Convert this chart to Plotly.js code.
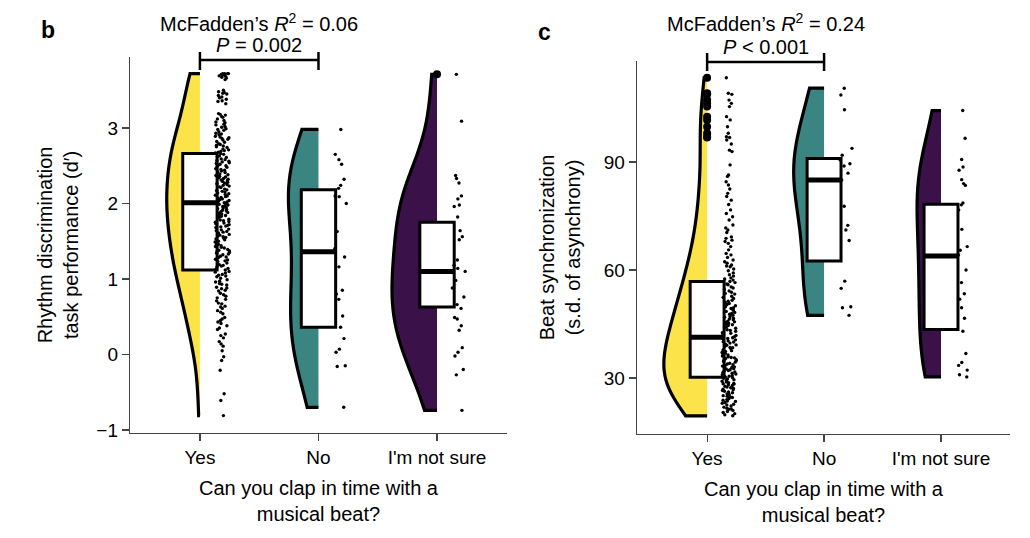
<!DOCTYPE html>
<html><head><meta charset="utf-8">
<script src="https://cdn.plot.ly/plotly-3.0.1.min.js"></script>
<style>html,body{margin:0;padding:0;background:#fff}#chart{width:1030px;height:538px}</style>
</head><body><div id="chart"></div>
<script>
const categories = ["Yes", "No", "I'm not sure"];

// Panel b: rhythm discrimination (d')
const rhythmYes = [
 3.72,3.70,3.72,3.66,3.71,3.68,3.72,3.64,3.69,3.72,3.67,3.70,
 3.48,3.45,3.50,3.41,3.38,3.46,3.35,3.43,3.32,3.40,3.36,3.47,
 3.18,3.15,3.12,3.08,3.05,3.17,3.02,3.10,3.14,3.01,3.07,3.19,3.04,
 2.98,2.95,2.91,2.88,2.85,2.82,2.97,2.93,2.81,2.89,2.86,2.99,2.84,2.92,2.87,
 2.79,2.76,2.72,2.68,2.65,2.61,2.78,2.74,2.70,2.66,2.63,2.77,2.71,2.67,2.62,2.75,2.69,
 2.59,2.56,2.52,2.48,2.45,2.41,2.58,2.54,2.50,2.46,2.43,2.57,2.53,2.49,2.44,2.55,2.51,2.42,
 2.39,2.36,2.32,2.28,2.25,2.21,2.38,2.34,2.30,2.26,2.23,2.37,2.33,2.29,2.24,2.35,2.31,2.22,2.27,
 2.19,2.16,2.12,2.08,2.05,2.01,2.18,2.14,2.10,2.06,2.03,2.17,2.13,2.09,2.04,2.15,2.11,2.02,2.07,2.00,
 1.99,1.96,1.92,1.88,1.85,1.81,1.98,1.94,1.90,1.86,1.83,1.97,1.93,1.89,1.84,1.95,1.91,1.82,1.87,
 1.79,1.76,1.72,1.68,1.65,1.61,1.78,1.74,1.70,1.66,1.63,1.77,1.73,1.69,1.64,1.75,1.71,1.62,
 1.59,1.56,1.52,1.48,1.45,1.41,1.58,1.54,1.50,1.46,1.43,1.57,1.53,1.49,1.44,1.55,1.42,
 1.39,1.36,1.32,1.28,1.25,1.21,1.38,1.34,1.30,1.26,1.23,1.37,1.33,1.29,1.24,1.35,
 1.19,1.16,1.12,1.08,1.05,1.01,1.18,1.14,1.10,1.06,1.03,1.17,1.13,1.09,1.04,
 0.99,0.96,0.92,0.88,0.85,0.81,0.97,0.93,0.89,0.84,0.94,0.87,
 0.79,0.75,0.71,0.67,0.63,0.77,0.73,0.68,0.64,0.61,
 0.58,0.54,0.49,0.45,0.41,0.56,0.47,0.43,
 0.38,0.33,0.27,0.22,0.35,0.25,
 0.17,0.11,0.05,0.14,
 -0.03,-0.08,-0.21,-0.52,-0.61,-0.81
];
const rhythmNo = [2.98,2.65,2.58,2.52,2.32,2.24,2.20,2.10,2.09,2.00,1.63,1.40,1.29,1.16,0.85,0.80,0.73,0.51,0.36,0.21,0.07,0.03,-0.15,-0.16,-0.70];
const rhythmNotSure = [3.71,3.09,2.37,2.33,2.27,2.10,2.06,1.98,1.96,1.82,1.64,1.56,1.52,1.25,1.18,1.14,1.10,0.98,0.88,0.76,0.66,0.61,0.49,0.47,0.38,0.32,0.09,0.03,-0.02,-0.20,-0.27,-0.74];
const rhythmQ1 = [1.12, 0.36, 0.63];
const rhythmMedian = [2.01, 1.36, 1.10];
const rhythmQ3 = [2.66, 2.18, 1.75];
const rhythmTicks = [-1, 0, 1, 2, 3];

// Panel c: beat synchronization (s.d. of asynchrony)
const beatYes = [
 113.4,109.1,108.8,107.2,106.3,105.4,102.6,101.7,99.8,
 98.0,97.0,96.8,96.1,95.0,93.3,92.9,
 89.2,86.4,86.0,84.5,83.6,81.3,80.4,82.5,
 79.4,76.7,75.7,73.9,72.5,71.7,71.1,78.2,74.8,70.4,
 68.3,67.9,67.4,65.6,64.6,64.2,62.8,69.2,66.5,63.5,68.8,62.3,
 61.9,60.9,61.4,59.8,58.7,60.3,59.2,58.3,61.1,
 57.8,57.2,56.5,55.9,55.3,54.6,57.5,56.1,55.0,54.2,56.8,
 53.8,53.3,52.7,52.1,51.6,51.0,50.4,53.5,52.4,51.3,50.7,50.1,
 49.8,49.3,48.8,48.2,47.7,47.1,46.6,46.2,49.5,48.5,47.9,47.4,46.9,46.4,
 45.8,45.4,45.0,44.6,44.2,43.8,43.4,43.0,42.6,42.2,45.6,44.8,44.0,43.2,42.4,45.2,
 41.8,41.5,41.2,40.9,40.6,40.3,40.0,39.7,39.4,39.1,38.8,38.5,38.2,41.0,40.1,39.2,38.4,
 37.8,37.6,37.4,37.1,36.9,36.6,36.4,36.1,35.9,35.6,35.4,35.1,34.9,34.6,34.4,34.1,37.0,35.7,34.8,
 33.9,33.7,33.5,33.3,33.1,32.9,32.7,32.5,32.3,32.1,31.9,31.7,31.5,31.3,31.1,30.9,30.7,30.5,30.3,30.1,32.6,
 29.9,29.7,29.5,29.3,29.1,28.9,28.7,28.5,28.3,28.1,27.9,27.7,27.5,27.3,27.1,26.9,26.7,26.5,26.3,26.1,28.4,
 25.9,25.6,25.4,25.1,24.8,24.6,24.3,24.0,23.8,23.5,23.2,23.0,22.7,22.5,22.2,24.9,23.6,
 21.9,21.6,21.3,21.0,20.7,20.4,20.1,19.8,19.5,21.4
];
const beatNo = [110.5,108.6,104.5,93.8,91.9,90.6,89.5,88.9,86.9,85.0,77.7,72.4,71.1,68.2,56.9,54.9,49.8,49.5,47.4];
const beatNotSure = [104.3,96.6,90.7,88.6,87.7,85.1,84.0,83.5,78.6,78.1,76.7,71.3,66.5,65.5,64.2,60.0,56.5,53.4,51.9,49.5,46.6,43.0,36.8,34.3,33.5,32.2,30.9,30.3];
const beatQ1 = [30.2, 62.5, 43.5];
const beatMedian = [41.3, 85.0, 63.9];
const beatQ3 = [56.8, 91.0, 78.3];
const beatTicks = [30, 60, 90];

const groupColors = ['#FCE34A', '#3A8581', '#3B1149'];
const FONT = 'Liberation Sans, Arial, Helvetica, sans-serif';

function panel(tag, xa, ya, groups, q1, med, q3, vWidths) {
  const tr = [];
  groups.forEach((vals, i) => {
    tr.push({type:'violin', name: tag + i, scalegroup: tag + i, x0: categories[i], y: vals,
      side:'negative', spanmode:'hard', scalemode:'width', width: vWidths[i], fillcolor: groupColors[i],
      line:{color:'black', width:3.2}, points:false, box:{visible:false}, meanline:{visible:false},
      xaxis: xa, yaxis: ya, hoverinfo:'skip', showlegend:false});
  });
  tr.push({type:'box', x: categories, q1: q1, median: med, q3: q3, lowerfence: q1, upperfence: q3,
    width: 0.29, fillcolor:'white', line:{color:'black', width:3}, boxpoints:false, whiskerwidth:0,
    xaxis: xa, yaxis: ya, hoverinfo:'skip', showlegend:false});
  tr.push({type:'box', x: categories, q1: med, median: med, q3: med, lowerfence: med, upperfence: med,
    width: 0.29, fillcolor:'rgba(0,0,0,0)', line:{color:'black', width:5}, boxpoints:false, whiskerwidth:0,
    xaxis: xa, yaxis: ya, hoverinfo:'skip', showlegend:false});
  groups.forEach((vals, i) => {
    tr.push({type:'box', x0: categories[i], y: vals, boxpoints:'all', jitter:0.42, pointpos:1.3,
      width: 0.29, fillcolor:'rgba(0,0,0,0)', line:{color:'rgba(0,0,0,0)', width:0},
      marker:{color:'black', size:3.4}, xaxis: xa, yaxis: ya, hoverinfo:'skip', showlegend:false});
  });
  const ox = [], oy = [];
  groups.forEach((vals, i) => {
    const iqr = q3[i] - q1[i];
    vals.forEach(v => { if (v > q3[i] + 1.5*iqr || v < q1[i] - 1.5*iqr) { ox.push(categories[i]); oy.push(v); } });
  });
  tr.push({type:'scatter', mode:'markers', x: ox, y: oy, marker:{color:'black', size:8},
    xaxis: xa, yaxis: ya, hoverinfo:'skip', showlegend:false});
  return tr;
}

const data = [].concat(
  panel('b', 'x', 'y', [rhythmYes, rhythmNo, rhythmNotSure], rhythmQ1, rhythmMedian, rhythmQ3, [0.56, 0.506, 0.76]),
  panel('c', 'x2', 'y2', [beatYes, beatNo, beatNotSure], beatQ1, beatMedian, beatQ3, [0.74, 0.52, 0.41])
);

const axCommon = {showline:true, linecolor:'#444', linewidth:1.2, ticks:'outside', ticklen:7, tickcolor:'#444',
  tickwidth:1.2, showgrid:false, zeroline:false, tickfont:{size:19, color:'black'}, fixedrange:true};
const xTitle = {text:'Can you clap in time with a<br>musical beat?', font:{size:20, color:'black'}, standoff:14};

const layout = {
  width:1030, height:538, margin:{l:0, r:0, t:0, b:0},
  paper_bgcolor:'white', plot_bgcolor:'white', showlegend:false,
  boxmode:'overlay', violinmode:'overlay',
  font:{family: FONT, size:20, color:'black'},
  xaxis: Object.assign({}, axCommon, {domain:[0.1262, 0.4922], type:'category', categoryarray: categories,
    range:[-0.59, 2.59], anchor:'y', title: xTitle}),
  yaxis: Object.assign({}, axCommon, {domain:[0.1952, 0.8941], range:[-1.04, 3.94], tickvals: rhythmTicks,
    anchor:'x', title:{text:'Rhythm discrimination<br>task performance (d′)', font:{size:20, color:'black'}, standoff:12}}),
  xaxis2: Object.assign({}, axCommon, {domain:[0.6184, 0.9806], type:'category', categoryarray: categories,
    range:[-0.6, 2.59], anchor:'y2', title: xTitle}),
  yaxis2: Object.assign({}, axCommon, {domain:[0.1933, 0.8866], range:[14.44, 118.06], tickvals: beatTicks,
    anchor:'x2', title:{text:'Beat synchronization<br>(s.d. of asynchrony)', font:{size:20, color:'black'}, standoff:17}}),
  shapes: [
    {type:'line', xref:'x', yref:'paper', x0:0, x1:1, y0:0.8885, y1:0.8885, line:{color:'black', width:2.5}},
    {type:'line', xref:'x', yref:'paper', x0:0, x1:0, y0:0.8699, y1:0.9033, line:{color:'black', width:2.5}},
    {type:'line', xref:'x', yref:'paper', x0:1, x1:1, y0:0.8699, y1:0.9033, line:{color:'black', width:2.5}},
    {type:'line', xref:'x2', yref:'paper', x0:0, x1:1, y0:0.8848, y1:0.8848, line:{color:'black', width:2.5}},
    {type:'line', xref:'x2', yref:'paper', x0:0, x1:0, y0:0.8680, y1:0.9015, line:{color:'black', width:2.5}},
    {type:'line', xref:'x2', yref:'paper', x0:1, x1:1, y0:0.8680, y1:0.9015, line:{color:'black', width:2.5}}
  ],
  annotations: [
    {text:'<b>b</b>', xref:'paper', yref:'paper', x:39/1030, y:1-15/538, showarrow:false, font:{size:23}},
    {text:'<b>c</b>', xref:'paper', yref:'paper', x:544/1030, y:1-17/538, showarrow:false, font:{size:23}},
    {text:'McFadden’s <i>R</i><sup>2</sup> = 0.06', xref:'x', yref:'paper', x:0.5, y:1-22/538, yanchor:'middle', showarrow:false, font:{size:20}},
    {text:'<i>P</i> = 0.002', xref:'x', yref:'paper', x:0.5, y:1-45/538, yanchor:'middle', showarrow:false, font:{size:20}},
    {text:'McFadden’s <i>R</i><sup>2</sup> = 0.24', xref:'x2', yref:'paper', x:0.5, y:1-22/538, yanchor:'middle', showarrow:false, font:{size:20}},
    {text:'<i>P</i> < 0.001', xref:'x2', yref:'paper', x:0.5, y:1-47/538, yanchor:'middle', showarrow:false, font:{size:20}}
  ]
};

Plotly.newPlot('chart', data, layout, {displayModeBar:false, staticPlot:true});
</script>
</body></html>
